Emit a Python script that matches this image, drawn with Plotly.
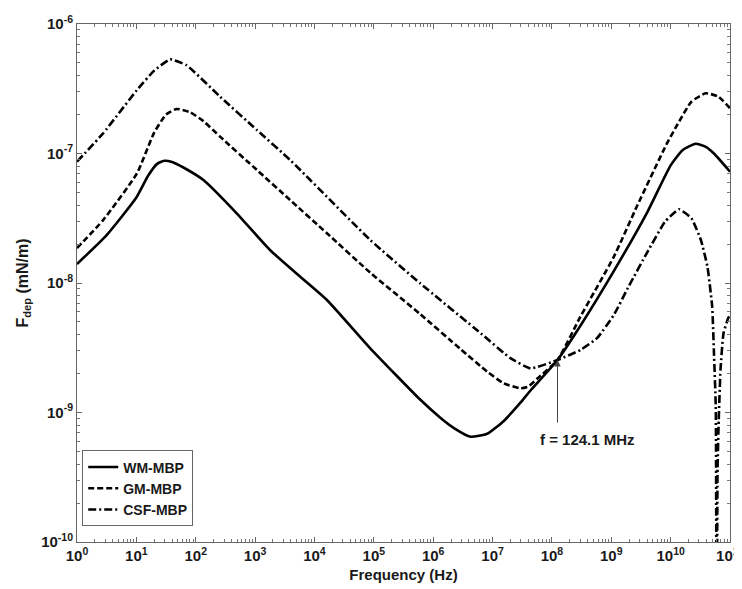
import plotly.graph_objects as go

# ---- data ----
wm_freq = [1, 3.162, 10, 15.85, 22.39, 29.51, 39.81, 63.1, 134.9, 489.8, 1778, 5754, 16218,
           87096, 602560, 1.318e6, 2.239e6, 4.266e6, 8.128e6, 1.549e7, 2.951e7, 4.365e7,
           1.241e8, 3.02e8, 1.096e9, 4.074e9, 1e10, 1.585e10, 2.630e10, 3.981e10, 5.370e10,
           1e11]
wm_F = [1.403e-8, 2.344e-8, 4.571e-8, 6.761e-8, 8.318e-8, 8.79e-8, 8.61e-8, 7.762e-8,
        6.237e-8, 3.451e-8, 1.799e-8, 1.119e-8, 7.396e-9, 3.133e-9, 1.259e-9, 9.12e-10,
        7.586e-10, 6.501e-10, 6.85e-10, 8.6e-10, 1.19e-9, 1.479e-9, 2.541e-9, 4.677e-9,
        1.230e-8, 3.548e-8, 8.1e-8, 1.06e-7, 1.189e-7, 1.122e-7, 1.0e-7, 7.244e-8]

gm_freq = [1, 2.754, 10.23, 19.95, 31.62, 47.86, 79.4, 134.9, 257, 1072, 3890, 16218, 87096,
           602560, 2.884e6, 8.128e6, 1.549e7, 2.951e7, 3.981e7, 5.623e7, 1.241e8, 3.02e8,
           1.096e9, 2.754e9, 8.71e9, 1.288e10, 2.239e10, 3.890e10, 6.310e10, 1e11]
gm_F = [1.862e-8, 3.062e-8, 7.031e-8, 1.45e-7, 2.0e-7, 2.208e-7, 2.089e-7, 1.778e-7,
        1.349e-7, 7.464e-8, 4.375e-8, 2.421e-8, 1.202e-8, 5.754e-9, 3.09e-9, 2.065e-9,
        1.679e-9, 1.538e-9, 1.585e-9, 1.820e-9, 2.541e-9, 5.495e-9, 1.585e-8, 3.981e-8,
        1.202e-7, 1.660e-7, 2.512e-7, 2.917e-7, 2.754e-7, 2.234e-7]

csf_freq = [1, 2.754, 10.23, 19.95, 37.15, 70.8, 257, 1072, 3890, 87096, 602560, 6.31e6,
            1.995e7, 4.365e7, 1.241e8, 3.02e8, 5.754e8, 1.096e9, 1.995e9, 4.074e9, 7.943e9,
            1.380e10, 2.239e10, 3.236e10, 4.169e10, 5.012e10, 5.370e10, 5.754e10, 5.957e10,
            6.166e10, 6.457e10, 6.918e10, 7.762e10, 9.333e10, 1e11]
csf_F = [8.65e-8, 1.432e-7, 3.090e-7, 4.365e-7, 5.333e-7, 4.786e-7, 2.748e-7, 1.517e-7,
         8.913e-8, 2.148e-8, 9.954e-9, 4.093e-9, 2.63e-9, 2.193e-9, 2.541e-9, 3.041e-9,
         3.75e-9, 5.623e-9, 9.55e-9, 1.738e-8, 2.951e-8, 3.707e-8, 3.162e-8, 2.148e-8,
         1.337e-8, 6.561e-9, 2.864e-9, 1.109e-9, 1e-11, 3.631e-10, 8.71e-10, 2.138e-9,
         4.074e-9, 5.37e-9, 5.623e-9]

x_exponents = list(range(0, 12))
y_exponents = [-10, -9, -8, -7, -6]

x_tickvals = [10.0 ** e for e in x_exponents]
x_ticktext = ["10<sup>%d</sup>" % e for e in x_exponents]
y_tickvals = [10.0 ** e for e in y_exponents]
y_ticktext = ["10<sup>%d</sup>" % e for e in y_exponents]
x_minor = [m * 10.0 ** e for e in x_exponents[:-1] for m in range(2, 10)]
y_minor = [m * 10.0 ** e for e in y_exponents[:-1] for m in range(2, 10)]

FONT = "Liberation Sans, Arial, sans-serif"
TXT = "#1a1a1a"

fig = go.Figure()
fig.add_trace(go.Scatter(x=wm_freq, y=wm_F, mode="lines", name="WM-MBP",
                         line=dict(color="black", width=2.6, shape="spline", smoothing=0.5)))
fig.add_trace(go.Scatter(x=gm_freq, y=gm_F, mode="lines", name="GM-MBP",
                         line=dict(color="black", width=2.6, dash="6px,3px", shape="spline",
                                   smoothing=0.5)))
fig.add_trace(go.Scatter(x=csf_freq, y=csf_F, mode="lines", name="CSF-MBP",
                         line=dict(color="black", width=2.6, dash="8px,3px,2px,3px",
                                   shape="spline", smoothing=0.4)))

axis_common = dict(
    type="log", showgrid=False, zeroline=False, showline=True, linecolor="#666",
    linewidth=1, mirror="ticks", ticks="inside", ticklen=5, tickcolor="#666",
    tickmode="array",
    tickfont=dict(family=FONT, size=15, color=TXT, weight="bold"),
)

fig.update_xaxes(**axis_common, range=[0, 11], tickvals=x_tickvals, ticktext=x_ticktext,
                 minor=dict(ticks="inside", ticklen=3, tickcolor="#777", tickvals=x_minor,
                            showgrid=False),
                 title=dict(text="Frequency (Hz)", standoff=6,
                            font=dict(family=FONT, size=15, color=TXT, weight="bold")))
fig.update_yaxes(**axis_common, range=[-10, -6], tickvals=y_tickvals, ticktext=y_ticktext,
                 minor=dict(ticks="inside", ticklen=3, tickcolor="#777", tickvals=y_minor,
                            showgrid=False),
                 title=dict(text="F<sub>dep</sub> (mN/m)", standoff=8,
                            font=dict(family=FONT, size=16, color=TXT, weight="bold")))

fig.add_annotation(x=8.094, y=-8.595, xref="x", yref="y", text="", showarrow=True,
                   ax=0, ay=64, arrowhead=2, arrowsize=1.3, arrowwidth=1, arrowcolor="#444")
fig.add_annotation(x=8.6, y=-9.21, xref="x", yref="y", text="f = 124.1 MHz",
                   showarrow=False,
                   font=dict(family=FONT, size=15, color=TXT, weight="bold"))

# margins compensate for the 8px page margin around the figure
fig.update_layout(
    width=742, height=589,
    margin=dict(l=69, r=20, t=16, b=55, autoexpand=False),
    paper_bgcolor="white", plot_bgcolor="white",
    showlegend=True,
    legend=dict(x=0.008, y=0.03, xanchor="left", yanchor="bottom",
                bgcolor="white", bordercolor="#666", borderwidth=1,
                font=dict(family=FONT, size=14, color=TXT, weight="bold"),
                itemwidth=30, tracegroupgap=0),
)

fig.write_html("out.html")
